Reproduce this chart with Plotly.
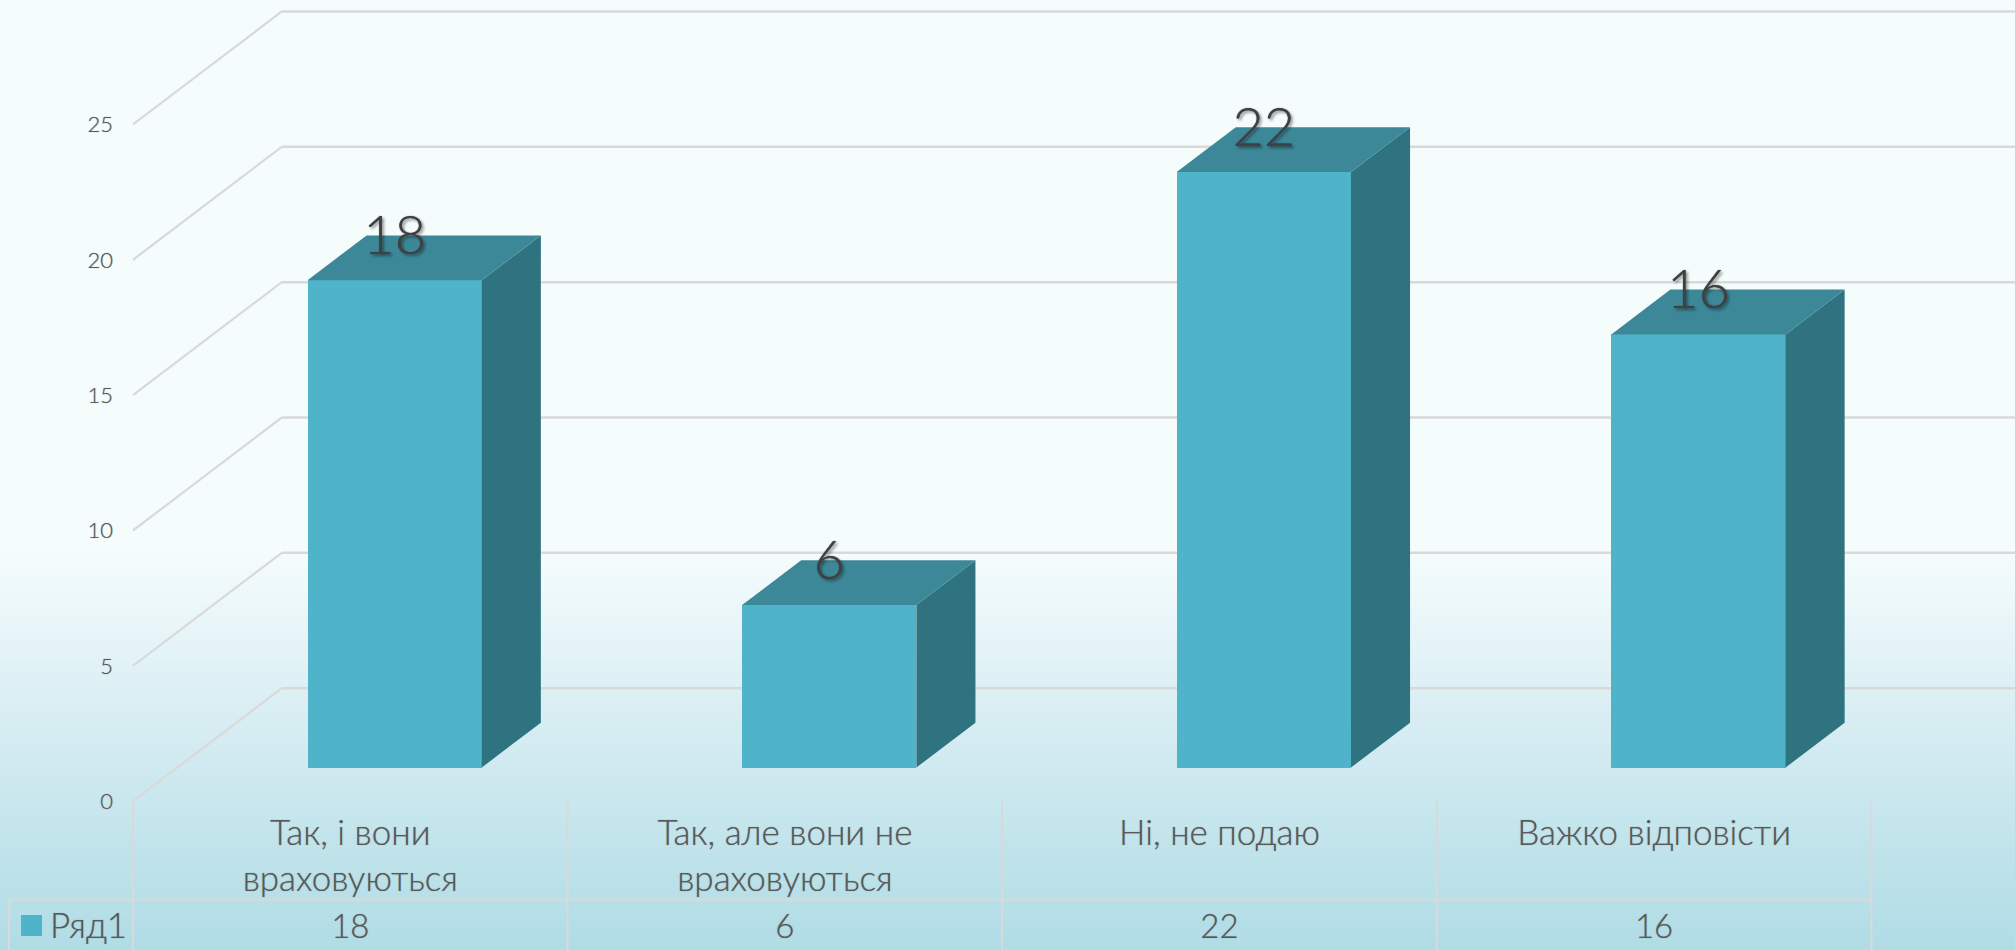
import plotly.graph_objects as go

CATEGORIES = ["Так, і вони<br>враховуються", "Так, але вони не<br>враховуються", "Ні, не подаю", "Важко відповісти"]
VALUES = [18, 6, 22, 16]
SERIES_NAME = "Ряд1"
Y_TICKS = [0, 5, 10, 15, 20, 25]

W, H = 2015, 950
X0_PX, CAT_PX, Y0_PX, UNIT_PX = 133.0, 434.6, 801.2, 27.07
DEPTH_X = 148.8 / CAT_PX      # depth of the chart floor, in category units
DEPTH_Y = 113.0 / UNIT_PX     # depth of the chart floor, in value units
BAR_D0, BAR_D1 = 0.298, 0.695  # bar front / back along the depth
BAR_W = 0.401

X_RANGE = [-X0_PX / CAT_PX, (W - X0_PX) / CAT_PX]
Y_RANGE = [(Y0_PX - H) / UNIT_PX, Y0_PX / UNIT_PX]

FONT = "Lato"
TEXT = "#595959"
GRID = "#D9D9D9"
FRONT, TOP, SIDE = "#4FB3C9", "#3C8899", "#307380"
SOFT = "0 0 1px rgba(89,89,89,0.7)"

def px_y(p):
    return (Y0_PX - p) / UNIT_PX

def proj(c, v, d):
    return c + DEPTH_X * d, v + DEPTH_Y * d

fig = go.Figure()

# background gradient: (pixel row, colour)
BG_STOPS = [(0, "#F5FCFC"), (550, "#F5FCFC"), (620, "#E9F6F9"), (700, "#DBEFF4"),
            (800, "#C9E7EE"), (880, "#BBE1E9"), (950, "#B0DCE6")]
rows = [r for r, _ in BG_STOPS]
fig.add_trace(go.Heatmap(
    x=X_RANGE, y=[px_y(r) for r in rows], z=[[r, r] for r in rows],
    zmin=0, zmax=H, zsmooth="best", showscale=False, hoverinfo="skip",
    colorscale=[[r / H, col] for r, col in BG_STOPS], xaxis="x", yaxis="y"))

# side wall gridlines (front left edge to back) and back wall gridlines
sx, sy, bx, by = [], [], [], []
for t in Y_TICKS:
    a = proj(0, t, 0); b = proj(0, t, 1); e = proj(len(VALUES), t, 1)
    sx += [a[0], b[0], None]
    sy += [a[1], b[1], None]
    bx += [b[0], e[0], None]
    by += [b[1], e[1], None]
fig.add_trace(go.Scatter(x=sx, y=sy, mode="lines", line=dict(color=GRID, width=2.2),
                         hoverinfo="skip", showlegend=False, xaxis="x", yaxis="y"))
fig.add_trace(go.Scatter(x=bx, y=by, mode="lines", line=dict(color=GRID, width=2.5),
                         hoverinfo="skip", showlegend=False, xaxis="x", yaxis="y"))

# data-table rules
ROW_TOP = px_y(899.5)
tx, ty = [], []
for c in range(len(VALUES) + 1):
    tx += [c, c, None]
    ty += [0, Y_RANGE[0], None]
tx += [-(X0_PX - 9) / CAT_PX, len(VALUES), None, -(X0_PX - 9) / CAT_PX, -(X0_PX - 9) / CAT_PX]
ty += [ROW_TOP, ROW_TOP, None, ROW_TOP, Y_RANGE[0]]
fig.add_trace(go.Scatter(x=tx, y=ty, mode="lines", line=dict(color=GRID, width=2),
                         hoverinfo="skip", showlegend=False, xaxis="x", yaxis="y"))

# bars on the overlay subplot
centers = [i + 0.5 for i in range(len(VALUES))]
front_x = [proj(c, 0, BAR_D0)[0] for c in centers]
base = proj(0, 0, BAR_D0)[1]
fig.add_trace(go.Bar(x=front_x, y=VALUES, base=base, width=BAR_W, name=SERIES_NAME,
                     marker=dict(color=FRONT, line=dict(width=0)), showlegend=False,
                     xaxis="x2", yaxis="y2"))

def face(pts, color):
    fig.add_trace(go.Scatter(x=[p[0] for p in pts], y=[p[1] for p in pts], mode="lines",
                             fill="toself", fillcolor=color, line=dict(width=0),
                             hoverinfo="skip", showlegend=False, xaxis="x2", yaxis="y2"))

for c, v in zip(centers, VALUES):
    l, r = c - BAR_W / 2, c + BAR_W / 2
    face([proj(r, 0, BAR_D0), proj(r, v, BAR_D0), proj(r, v, BAR_D1), proj(r, 0, BAR_D1)], SIDE)
    face([proj(l, v, BAR_D0), proj(r, v, BAR_D0), proj(r, v, BAR_D1), proj(l, v, BAR_D1)], TOP)

# data labels
fig.add_trace(go.Scatter(
    x=front_x, y=[v + DEPTH_Y * BAR_D1 - 5 / UNIT_PX for v in VALUES], mode="text",
    text=[str(v) for v in VALUES], textposition="middle center",
    textfont=dict(family=FONT, size=54, color="#404040", weight=300,
                  shadow="0 0 1px #404040, 2px 2px 3px rgba(0,0,0,0.45)"),
    hoverinfo="skip", showlegend=False, xaxis="x2", yaxis="y2"))

# data-table values
ROW_Y = px_y(929.5)
fig.add_trace(go.Scatter(
    x=centers, y=[ROW_Y] * len(VALUES), mode="text", text=[str(v) for v in VALUES],
    textposition="middle center",
    textfont=dict(family=FONT, size=33, color=TEXT, weight=300, shadow=SOFT),
    hoverinfo="skip", showlegend=False, xaxis="x2", yaxis="y2"))

# legend key in the table
fig.add_trace(go.Scatter(
    x=[(31.5 - X0_PX) / CAT_PX], y=[px_y(925.5)], mode="markers",
    marker=dict(symbol="square", size=21, color=FRONT, line=dict(width=0)),
    hoverinfo="skip", showlegend=False, xaxis="x2", yaxis="y2"))
fig.add_trace(go.Scatter(
    x=[(50 - X0_PX) / CAT_PX], y=[px_y(929)], mode="text",
    text=[SERIES_NAME], textposition="middle right",
    textfont=dict(family=FONT, size=35, color=TEXT, weight=300, shadow=SOFT),
    hoverinfo="skip", showlegend=False, xaxis="x2", yaxis="y2"))

fig.update_layout(
    width=W, height=H, margin=dict(l=0, r=0, t=0, b=0), autosize=False,
    paper_bgcolor="#F5FCFC", plot_bgcolor="rgba(0,0,0,0)", showlegend=False,
    bargap=0,
    xaxis=dict(range=X_RANGE, domain=[0, 1], anchor="free", position=(H - Y0_PX) / H,
               tickmode="array", tickvals=centers, ticktext=CATEGORIES, ticks="",
               tickangle=0, showgrid=False, zeroline=False, showline=False, side="bottom",
               ticklabelstandoff=8,
               tickfont=dict(family=FONT, size=35, color=TEXT, weight=300, shadow=SOFT), automargin=False),
    yaxis=dict(range=Y_RANGE, domain=[0, 1], anchor="free", position=113 / W,
               tickmode="array", tickvals=Y_TICKS, ticks="", showgrid=False, zeroline=False,
               showline=False, ticklabelshift=0,
               tickfont=dict(family=FONT, size=22, color=TEXT, weight=300, shadow=SOFT),
               automargin=False),
    xaxis2=dict(range=X_RANGE, domain=[0, 1], overlaying="x", visible=False, anchor="y2"),
    yaxis2=dict(range=Y_RANGE, domain=[0, 1], overlaying="y", visible=False, anchor="x2"),
)

fig.write_html("out.html", config=dict(displayModeBar=False),
               post_script="document.body.style.margin='0';document.body.style.overflow='hidden';")
